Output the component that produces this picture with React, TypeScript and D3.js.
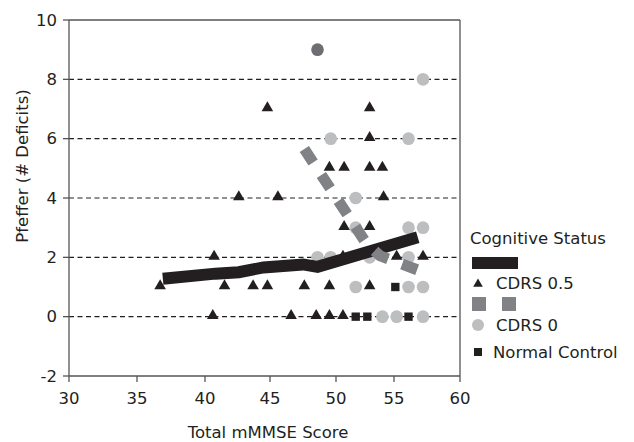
import React from "react";
import * as d3 from "d3";

// ---- data ----
const xTicks = [30, 35, 40, 45, 50, 55, 60];
const yTicks = [-2, 0, 2, 4, 6, 8, 10];
const gridValues = [0, 2, 4, 6, 8];

// CDRS 0.5 (triangles)
const cdrs05X = [36.7, 40.6, 40.7, 41.5, 42.6, 43.7, 44.8, 44.8, 45.6, 46.6, 47.6, 48.5, 49.5, 49.5, 49.5, 50.6, 50.6, 50.7, 50.7, 52.9, 52.9, 52.9, 52.9, 52.9, 54.0, 54.1, 55.2, 57.2];
const cdrs05Y = [1, 0, 2, 1, 4, 1, 1, 7, 4, 0, 1, 0, 0, 1, 5, 0, 2, 3, 5, 1, 3, 5, 6, 7, 5, 4, 2, 2];

// CDRS 0 (light circles)
const cdrs0X = [48.6, 49.6, 49.6, 51.7, 51.7, 51.7, 52.9, 54.0, 55.2, 56.1, 56.1, 56.1, 56.1, 57.2, 57.2, 57.2, 57.2];
const cdrs0Y = [2, 2, 6, 1, 3, 4, 2, 0, 0, 1, 2, 3, 6, 0, 1, 3, 8];

// dark circle
const darkX = [48.6];
const darkY = [9];

// Normal control (squares)
const normalX = [51.7, 52.7, 55.1, 56.1];
const normalY = [0, 0, 1, 0];

// Trend CDRS 0.5 (solid)
const trend05X = [36.9, 40.8, 42.6, 44.5, 47.5, 48.6, 56.8];
const trend05Y = [1.28, 1.45, 1.5, 1.66, 1.76, 1.68, 2.68];

// Trend CDRS 0 (dashed)
const trend0X = [47.6, 52.6, 53.8, 57.0];
const trend0Y = [5.65, 2.48, 2.05, 1.54];

const legendLabels = ["Cognitive Status", "CDRS 0.5", "CDRS 0", "Normal Control"];

const FONT = "'DejaVu Sans', Verdana, sans-serif";
const INK = "#231f20";
const LIGHT = "#bcbec0";
const MID = "#808285";
const DARK = "#6d6e71";

export default function App() {
  const W = 634, H = 442;
  const x = d3.scaleLinear().domain(xTicks).range([69, 137, 205, 270, 336, 394, 460]);
  const y = d3.scaleLinear().domain([-2, 10]).range([376, 20]);
  const L = x(30), R = x(60), T = y(10), B = y(-2);

  const tri = d3.symbol().type(d3.symbolTriangle).size(58)();
  const circ = d3.symbol().type(d3.symbolCircle).size(125)();
  const sq = d3.symbol().type(d3.symbolSquare).size(70)();

  const line = d3.line<[number, number]>().x(d => x(d[0])).y(d => y(d[1]));
  const solidPts = trend05X.map((v, i) => [v, trend05Y[i]] as [number, number]);
  const dashPts = trend0X.map((v, i) => [v, trend0Y[i]] as [number, number]);

  return (
    <svg width={W} height={H} style={{ position: "absolute", left: 0, top: 0, background: "#fff" }} fontFamily={FONT}>
      <rect x={0} y={0} width={W} height={H} fill="#fff" />
      {/* grid */}
      {gridValues.map(v => (
        <line key={v} x1={L} x2={R} y1={y(v)} y2={y(v)} stroke={INK} strokeWidth={1.2} strokeDasharray="5,3.5" />
      ))}
      {/* frame */}
      <line x1={L} x2={R} y1={T} y2={T} stroke="#555" strokeWidth={1.3} />
      <line x1={R} x2={R} y1={T} y2={B} stroke="#555" strokeWidth={1.3} />
      <line x1={L} x2={L} y1={T} y2={B} stroke="#555" strokeWidth={1.3} />
      <line x1={L} x2={R} y1={B} y2={B} stroke="#555" strokeWidth={1.3} />
      {/* y ticks */}
      {yTicks.map(v => (
        <g key={v}>
          <line x1={L - 6} x2={L} y1={y(v)} y2={y(v)} stroke="#555" strokeWidth={1.3} />
          <text x={L - 12} y={y(v)} dy="0.35em" textAnchor="end" fontSize={16.5} fill={INK}>{v}</text>
        </g>
      ))}
      {/* x ticks */}
      {xTicks.map(v => (
        <g key={v}>
          <line x1={x(v)} x2={x(v)} y1={B} y2={B + 6} stroke="#555" strokeWidth={1.3} />
          <text x={x(v)} y={B + 22} textAnchor="middle" dy="0.35em" fontSize={16.5} fill={INK}>{v}</text>
        </g>
      ))}
      <text x={268} y={438} textAnchor="middle" fontSize={16.5} fill={INK}>Total mMMSE Score</text>
      <text transform={`translate(22,${166}) rotate(-90)`} textAnchor="middle" dy="0.35em" fontSize={16.5} fill={INK}>Pfeffer (# Deficits)</text>

      {/* points */}
      {cdrs0X.map((v, i) => (
        <path key={"c" + i} d={circ} transform={`translate(${x(v)},${y(cdrs0Y[i])})`} fill={LIGHT} />
      ))}
      {darkX.map((v, i) => (
        <path key={"d" + i} d={circ} transform={`translate(${x(v)},${y(darkY[i])})`} fill={DARK} />
      ))}
      {normalX.map((v, i) => (
        <path key={"s" + i} d={sq} transform={`translate(${x(v)},${y(normalY[i])})`} fill={INK} />
      ))}
      {cdrs05X.map((v, i) => (
        <path key={"t" + i} d={tri} transform={`translate(${x(v)},${y(cdrs05Y[i]) - 1})`} fill={INK} />
      ))}

      {/* trends */}
      <path d={line(solidPts) || ""} fill="none" stroke={INK} strokeWidth={12} />
      <path d={line(dashPts) || ""} fill="none" stroke={MID} strokeWidth={11} strokeDasharray="16,15" />

      {/* legend */}
      <g>
        <text x={470} y={238} dy="0.35em" fontSize={16.5} fill={INK}>{legendLabels[0]}</text>
        <rect x={472} y={257} width={46} height={12} fill={INK} />
        <path d={d3.symbol().type(d3.symbolTriangle).size(40)()} transform="translate(478,284)" fill={INK} />
        <text x={496} y={283} dy="0.35em" fontSize={16.5} fill={INK}>{legendLabels[1]}</text>
        <rect x={472} y={297} width={14} height={14} fill={MID} />
        <rect x={502} y={297} width={14} height={14} fill={MID} />
        <circle cx={478} cy={325} r={6} fill={LIGHT} />
        <text x={496} y={325} dy="0.35em" fontSize={16.5} fill={INK}>{legendLabels[2]}</text>
        <rect x={474} y={348} width={8} height={8} fill={INK} />
        <text x={493} y={352} dy="0.35em" fontSize={16.5} fill={INK}>{legendLabels[3]}</text>
      </g>
    </svg>
  );
}
